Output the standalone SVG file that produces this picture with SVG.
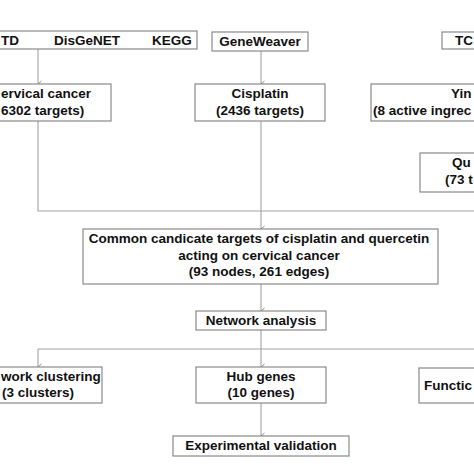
<svg xmlns="http://www.w3.org/2000/svg" width="474" height="474" viewBox="0 0 474 474">
<style>
.box{fill:#fff;stroke:#8a8a8a;stroke-width:1.2}
.t{font-family:"Liberation Sans",Arial,sans-serif;font-weight:bold;font-size:13.5px;fill:#111}
.c{text-anchor:middle}
.e{text-anchor:end}
.ln{fill:none;stroke:#a3a3a3;stroke-width:1.1}
</style>
<defs>
<marker id="ah" viewBox="0 0 8 8" refX="4" refY="7.5" markerWidth="8" markerHeight="8" markerUnits="userSpaceOnUse" orient="auto-start-reverse">
<path d="M1,4 L4,7.5 L7,4" fill="none" stroke="#8a8a8a" stroke-width="1"/>
</marker>
</defs>
<rect width="474" height="474" fill="#fff"/>
<g id="connectors">
<line class="ln" x1="38" y1="49" x2="38" y2="84" marker-end="url(#ah)"/>
<line class="ln" x1="261" y1="51" x2="261" y2="84" marker-end="url(#ah)"/>
<polyline class="ln" points="38,121 38,211 480,211"/>
<line class="ln" x1="261" y1="121" x2="261" y2="229" marker-end="url(#ah)"/>
<line class="ln" x1="261" y1="284" x2="261" y2="311" marker-end="url(#ah)"/>
<line class="ln" x1="261" y1="330" x2="261" y2="367" marker-end="url(#ah)"/>
<line class="ln" x1="38" y1="349" x2="480" y2="349"/>
<line class="ln" x1="38" y1="349" x2="38" y2="367" marker-end="url(#ah)"/>
<line class="ln" x1="261" y1="403" x2="261" y2="436" marker-end="url(#ah)"/>
</g>
<g id="sources">
<rect class="box" x="-5" y="31" width="202" height="18"/>
<text class="t" x="1" y="45">TD</text>
<text class="t" x="54" y="45">DisGeNET</text>
<text class="t" x="152" y="45">KEGG</text>
</g>
<g id="geneweaver">
<rect class="box" x="212" y="32" width="96" height="19"/>
<text class="t c" x="260" y="46">GeneWeaver</text>
</g>
<g id="tcm">
<rect class="box" x="442" y="32" width="40" height="17"/>
<text class="t" x="455" y="45">TC</text>
</g>
<g id="cervical">
<rect class="box" x="-5" y="84" width="116" height="37"/>
<text class="t" x="1" y="98">ervical cancer</text>
<text class="t" x="1" y="115">6302 targets)</text>
</g>
<g id="cisplatin">
<rect class="box" x="195" y="84" width="130" height="37"/>
<text class="t c" x="260" y="98">Cisplatin</text>
<text class="t c" x="260" y="115">(2436 targets)</text>
</g>
<g id="yin">
<rect class="box" x="371" y="84" width="110" height="37"/>
<text class="t" x="451" y="98">Yin</text>
<text class="t" x="373" y="115">(8 active ingrec</text>
</g>
<g id="quercetin">
<rect class="box" x="420" y="153" width="60" height="39"/>
<text class="t" x="452" y="167">Qu</text>
<text class="t" x="445" y="184">(73 t</text>
</g>
<g id="common">
<rect class="box" x="83" y="229" width="355" height="55"/>
<text class="t c" x="259" y="243">Common candicate targets of cisplatin and quercetin</text>
<text class="t c" x="259" y="259.5">acting on cervical cancer</text>
<text class="t c" x="259" y="276">(93 nodes, 261 edges)</text>
</g>
<g id="network">
<rect class="box" x="196" y="311" width="130" height="19"/>
<text class="t c" x="261" y="325">Network analysis</text>
</g>
<g id="clustering">
<rect class="box" x="-5" y="367" width="107" height="36"/>
<text class="t" x="1" y="381">work clustering</text>
<text class="t c" x="38" y="397">(3 clusters)</text>
</g>
<g id="hub">
<rect class="box" x="196" y="367" width="130" height="36"/>
<text class="t c" x="261" y="381">Hub genes</text>
<text class="t c" x="261" y="397">(10 genes)</text>
</g>
<g id="function">
<rect class="box" x="419" y="368" width="62" height="35"/>
<text class="t" x="424" y="390">Functic</text>
</g>
<g id="validation">
<rect class="box" x="173" y="436" width="176" height="20"/>
<text class="t c" x="261" y="450">Experimental validation</text>
</g>
</svg>
